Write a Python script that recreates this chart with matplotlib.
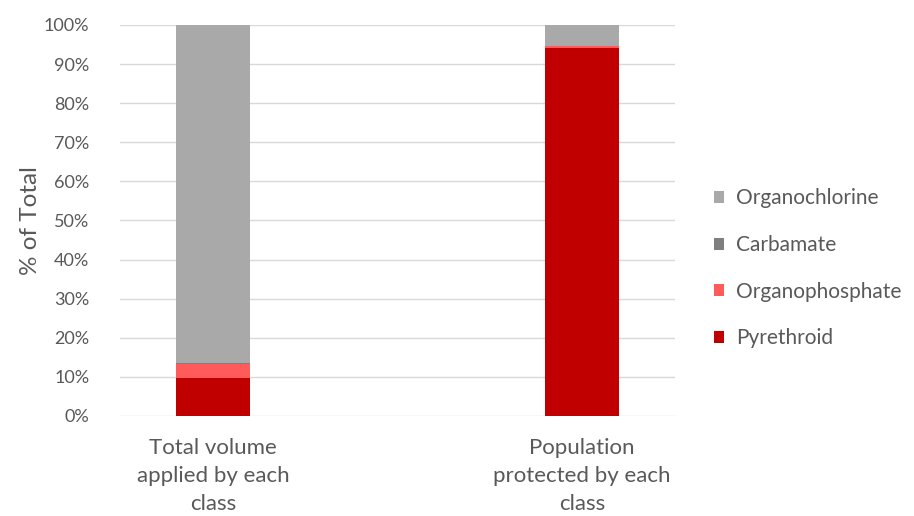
import matplotlib.pyplot as plt
from matplotlib.patches import Patch
import numpy as np

plt.rcParams['font.family'] = ['Lato', 'DejaVu Sans']

categories = ['Total volume\napplied by each\nclass', 'Population\nprotected by each\nclass']
classes = ['Pyrethroid', 'Organophosphate', 'Carbamate', 'Organochlorine']
pyrethroid = [9.7, 94.2]
organophosphate = [3.6, 0.3]
carbamate = [0.3, 0.1]
organochlorine = [86.4, 5.4]
colors = ['#C00000', '#FF5B5B', '#7F7F7F', '#A9A9A9']

series = [pyrethroid, organophosphate, carbamate, organochlorine]
text_color = '#595959'

fig = plt.figure(figsize=(9.14, 5.16), dpi=100)
ax = fig.add_axes([0.1313, 0.1938, 0.6072, 0.7578])

x = np.arange(len(categories))
bottom = np.zeros(len(categories))
for name, vals, col in zip(classes, series, colors):
    ax.bar(x, vals, width=0.2, bottom=bottom, color=col, label=name,
           linewidth=0, zorder=3)
    bottom += np.array(vals)

ax.set_xlim(-0.252, 1.252)
ax.set_ylim(0, 100)
ax.set_yticks(np.arange(0, 101, 10))
ax.set_yticklabels([f'{v}%' for v in range(0, 101, 10)])
ax.set_xticks(x)
ax.set_xticklabels(categories, linespacing=1.5, fontsize=16)
ax.yaxis.grid(True, color='#D9D9D9', linewidth=1, zorder=0)
for s in ax.spines.values():
    s.set_visible(False)
ax.tick_params(axis='both', length=0, labelcolor=text_color)
ax.tick_params(axis='y', pad=22, labelsize=13)
ax.tick_params(axis='x', pad=16)
ax.set_ylabel('% of Total', fontsize=17.5, color=text_color)
ax.yaxis.set_label_coords(-0.142, 0.5)

handles = [Patch(facecolor=c, edgecolor='none') for c in colors][::-1]
fig.legend(handles, classes[::-1], loc='center left', bbox_to_anchor=(0.781, 0.48),
           frameon=False, fontsize=15, labelcolor=text_color,
           handlelength=0.5, handleheight=0.5, handletextpad=0.55,
           labelspacing=1.28, borderaxespad=0, borderpad=0)

fig.savefig('out.png', dpi=100)
